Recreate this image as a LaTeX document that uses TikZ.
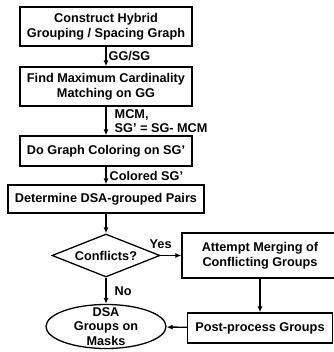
\documentclass[tikz,border=0pt]{standalone}
\usepackage{fontspec}
\setmainfont{Liberation Sans}
\usetikzlibrary{shapes.geometric,arrows.meta}

\begin{document}
\begin{tikzpicture}[x=1pt, y=1pt,
    every node/.style={font=\fontsize{12.7}{14.5}\selectfont\bfseries, align=center, inner sep=1pt},
    stepbox/.style={rectangle, draw, line width=1.3pt, minimum width=172pt},
    flow/.style={-{Latex[length=6pt,width=5pt]}, line width=1.4pt}]
    \useasboundingbox (0,0) rectangle (333,-352);

    \node [stepbox, minimum height=39pt] (Construct) at (106,-26.5) {Construct Hybrid\\Grouping / Spacing Graph};
    \node [stepbox, minimum height=39pt, below of=Construct, node distance=60pt] (Matching) {Find Maximum Cardinality\\Matching on GG};
    \node [stepbox, minimum height=30pt, below of=Matching, node distance=64.5pt] (Coloring) {Do Graph Coloring on SG'};
    \node [stepbox, minimum height=28pt, minimum width=196pt, below of=Coloring, node distance=48pt] (Pairs) {Determine DSA-grouped Pairs};
    \node [diamond, draw, line width=1.3pt, inner sep=0pt, aspect=2.5, minimum width=108pt, minimum height=43pt,
           below of=Pairs, node distance=56.5pt] (Conflicts) {Conflicts?};
    \node [stepbox, minimum height=45pt, minimum width=156pt, right of=Conflicts, node distance=154pt] (Merging) {Attempt Merging of\\Conflicting Groups};
    \node [stepbox, minimum height=30pt, minimum width=145pt, below of=Merging, node distance=72.5pt] (PostProcess) {Post-process Groups};
    \node [ellipse, draw, line width=1.3pt, minimum width=120pt, minimum height=44pt, below of=Conflicts, node distance=71pt,
           label={[align=center]center:DSA\\Groups on\\Masks}] (Masks) {};

    \draw [flow] (Construct) -- node [right, xshift=1pt] {GG/SG} (Matching);
    \draw [flow] (Matching) -- node [right, align=left, xshift=7pt] {MCM,\\SG' = SG- MCM} (Coloring);
    \draw [flow] (Coloring) -- node [right, xshift=2pt] {Colored SG'} (Pairs);
    \draw [flow] (Pairs) -- (Conflicts);
    \draw [flow] (Conflicts) -- node [pos=0, above=5pt] {Yes} (Merging);
    \draw [flow] (Conflicts) -- node [right, xshift=7pt] {No} (Masks);
    \draw [flow] (Merging) -- (PostProcess);
    \draw [flow] (PostProcess) -- (Masks);
\end{tikzpicture}
\end{document}
